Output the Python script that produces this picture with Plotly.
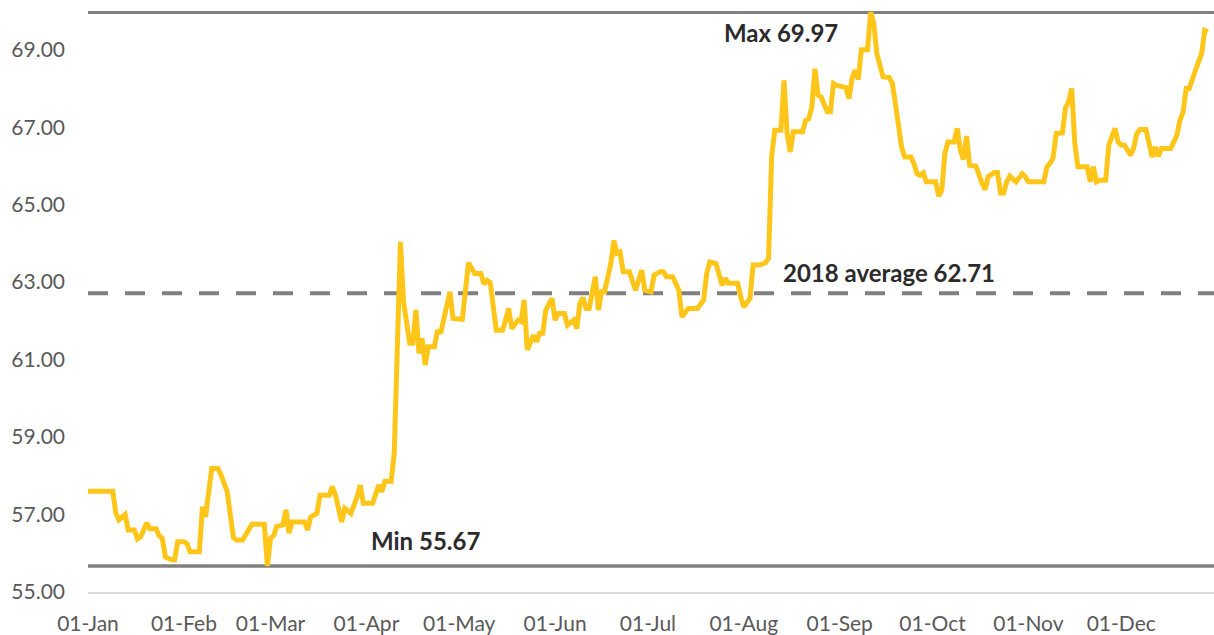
import plotly.graph_objects as go

dates = [
    "2018-01-01", "2018-01-09", "2018-01-10", "2018-01-11", "2018-01-13", "2018-01-14", "2018-01-16", "2018-01-17",
    "2018-01-18", "2018-01-20", "2018-01-21", "2018-01-23", "2018-01-24", "2018-01-25", "2018-01-26", "2018-01-28",
    "2018-01-29", "2018-01-30", "2018-02-01", "2018-02-02", "2018-02-03", "2018-02-06", "2018-02-07", "2018-02-08",
    "2018-02-10", "2018-02-12", "2018-02-13", "2018-02-14", "2018-02-15", "2018-02-17", "2018-02-18", "2018-02-20",
    "2018-02-22", "2018-02-23", "2018-02-27", "2018-02-28", "2018-03-01", "2018-03-02", "2018-03-03", "2018-03-05",
    "2018-03-06", "2018-03-07", "2018-03-08", "2018-03-12", "2018-03-13", "2018-03-14", "2018-03-16", "2018-03-17",
    "2018-03-20", "2018-03-21", "2018-03-22", "2018-03-24", "2018-03-25", "2018-03-27", "2018-03-29", "2018-03-30",
    "2018-03-31", "2018-04-03", "2018-04-05", "2018-04-06", "2018-04-07", "2018-04-09", "2018-04-10", "2018-04-11",
    "2018-04-12", "2018-04-13", "2018-04-14", "2018-04-15", "2018-04-16", "2018-04-17", "2018-04-18", "2018-04-19",
    "2018-04-20", "2018-04-21", "2018-04-23", "2018-04-24", "2018-04-25", "2018-04-27", "2018-04-28", "2018-04-29",
    "2018-05-02", "2018-05-04", "2018-05-06", "2018-05-08", "2018-05-09", "2018-05-10", "2018-05-11", "2018-05-13",
    "2018-05-15", "2018-05-16", "2018-05-17", "2018-05-18", "2018-05-20", "2018-05-21", "2018-05-22", "2018-05-23",
    "2018-05-25", "2018-05-26", "2018-05-27", "2018-05-28", "2018-05-29", "2018-05-31", "2018-06-01", "2018-06-02",
    "2018-06-04", "2018-06-05", "2018-06-07", "2018-06-08", "2018-06-09", "2018-06-10", "2018-06-11", "2018-06-12",
    "2018-06-14", "2018-06-15", "2018-06-16", "2018-06-17", "2018-06-19", "2018-06-20", "2018-06-21", "2018-06-22",
    "2018-06-23", "2018-06-25", "2018-06-27", "2018-06-29", "2018-06-30", "2018-07-02", "2018-07-03", "2018-07-05",
    "2018-07-06", "2018-07-07", "2018-07-09", "2018-07-11", "2018-07-12", "2018-07-14", "2018-07-17", "2018-07-19",
    "2018-07-20", "2018-07-21", "2018-07-23", "2018-07-25", "2018-07-26", "2018-07-27", "2018-07-30", "2018-07-31",
    "2018-08-01", "2018-08-03", "2018-08-04", "2018-08-06", "2018-08-08", "2018-08-09", "2018-08-10", "2018-08-11",
    "2018-08-13", "2018-08-14", "2018-08-15", "2018-08-16", "2018-08-17", "2018-08-20", "2018-08-21", "2018-08-22",
    "2018-08-23", "2018-08-24", "2018-08-25", "2018-08-26", "2018-08-28", "2018-08-29", "2018-08-30", "2018-08-31",
    "2018-09-02", "2018-09-03", "2018-09-04", "2018-09-05", "2018-09-06", "2018-09-07", "2018-09-08", "2018-09-10",
    "2018-09-11", "2018-09-12", "2018-09-13", "2018-09-14", "2018-09-15", "2018-09-17", "2018-09-18", "2018-09-19",
    "2018-09-21", "2018-09-22", "2018-09-24", "2018-09-25", "2018-09-26", "2018-09-27", "2018-09-28", "2018-09-29",
    "2018-10-02", "2018-10-03", "2018-10-04", "2018-10-05", "2018-10-06", "2018-10-08", "2018-10-09", "2018-10-10",
    "2018-10-11", "2018-10-12", "2018-10-13", "2018-10-15", "2018-10-16", "2018-10-17", "2018-10-18", "2018-10-19",
    "2018-10-21", "2018-10-22", "2018-10-23", "2018-10-24", "2018-10-25", "2018-10-26", "2018-10-28", "2018-10-30",
    "2018-10-31", "2018-11-01", "2018-11-02", "2018-11-06", "2018-11-07", "2018-11-08", "2018-11-09", "2018-11-10",
    "2018-11-12", "2018-11-13", "2018-11-14", "2018-11-15", "2018-11-16", "2018-11-17", "2018-11-20", "2018-11-21",
    "2018-11-22", "2018-11-23", "2018-11-24", "2018-11-26", "2018-11-27", "2018-11-28", "2018-11-29", "2018-11-30",
    "2018-12-01", "2018-12-02", "2018-12-04", "2018-12-05", "2018-12-06", "2018-12-07", "2018-12-09", "2018-12-11",
    "2018-12-12", "2018-12-13", "2018-12-14", "2018-12-17", "2018-12-18", "2018-12-19", "2018-12-20", "2018-12-21",
    "2018-12-22", "2018-12-23", "2018-12-25", "2018-12-26", "2018-12-27", "2018-12-28", "2018-12-29",
]

values = [
    57.60, 57.60, 57.04, 56.86, 57.00, 56.60, 56.60, 56.37,
    56.42, 56.78, 56.63, 56.63, 56.45, 56.39, 55.91, 55.83,
    55.83, 56.30, 56.30, 56.25, 56.04, 56.04, 57.20, 56.94,
    58.19, 58.19, 58.02, 57.76, 57.59, 56.41, 56.34, 56.34,
    56.63, 56.75, 56.75, 55.67, 56.39, 56.45, 56.69, 56.73,
    57.12, 56.52, 56.81, 56.81, 56.60, 56.94, 57.03, 57.50,
    57.50, 57.72, 57.50, 56.81, 57.16, 57.03, 57.46, 57.76,
    57.29, 57.29, 57.76, 57.59, 57.86, 57.86, 58.58, 61.16,
    64.04, 62.50, 61.90, 61.42, 61.42, 62.28, 61.16, 61.55,
    60.86, 61.33, 61.33, 61.76, 61.68, 62.45, 62.75, 62.06,
    62.04, 63.50, 63.22, 63.22, 62.95, 63.05, 63.00, 61.76,
    61.76, 62.02, 62.32, 61.80, 62.02, 61.98, 62.54, 61.25,
    61.63, 61.46, 61.68, 61.68, 62.28, 62.58, 62.02, 62.19,
    62.19, 61.89, 62.02, 61.80, 62.45, 62.60, 62.32, 62.32,
    63.14, 62.28, 62.75, 62.75, 63.48, 64.07, 63.74, 63.78,
    63.27, 63.27, 62.79, 63.31, 62.79, 62.75, 63.18, 63.27,
    63.27, 63.14, 63.14, 62.79, 62.10, 62.32, 62.32, 62.54,
    63.22, 63.52, 63.48, 62.92, 63.10, 62.97, 62.97, 62.62,
    62.36, 62.58, 63.44, 63.44, 63.50, 63.61, 66.23, 66.92,
    66.92, 68.21, 66.84, 66.36, 66.88, 66.88, 67.18, 67.22,
    67.52, 68.51, 67.83, 67.78, 67.40, 67.40, 68.13, 68.08,
    68.06, 68.02, 67.74, 68.26, 68.47, 68.23, 69.00, 69.00,
    69.97, 69.70, 68.90, 68.60, 68.30, 68.28, 68.14, 67.61,
    66.49, 66.23, 66.23, 66.06, 65.80, 65.76, 65.82, 65.59,
    65.59, 65.22, 65.37, 66.32, 66.62, 66.62, 66.97, 66.41,
    66.17, 66.77, 66.02, 66.00, 65.76, 65.56, 65.39, 65.72,
    65.83, 65.83, 65.30, 65.30, 65.59, 65.74, 65.59, 65.80,
    65.72, 65.59, 65.59, 65.59, 65.98, 66.06, 66.22, 66.84,
    66.85, 67.51, 67.65, 68.00, 66.58, 65.98, 65.98, 65.59,
    65.98, 65.59, 65.63, 65.63, 66.54, 66.79, 66.97, 66.62,
    66.54, 66.54, 66.28, 66.45, 66.82, 66.94, 66.94, 66.23,
    66.49, 66.25, 66.45, 66.45, 66.65, 66.79, 67.18, 67.39,
    68.00, 68.00, 68.47, 68.73, 68.90, 69.50, 69.46,
]

MAX_VAL = 69.97
MIN_VAL = 55.67
AVG_VAL = 62.71

month_ticks = ["2018-01-01", "2018-02-01", "2018-03-01", "2018-04-01", "2018-05-01", "2018-06-01",
               "2018-07-01", "2018-08-01", "2018-09-01", "2018-10-01", "2018-11-01", "2018-12-01"]
month_labels = ["01-Jan", "01-Feb", "01-Mar", "01-Apr", "01-May", "01-Jun",
                "01-Jul", "01-Aug", "01-Sep", "01-Oct", "01-Nov", "01-Dec"]
y_ticks = [55, 57, 59, 61, 63, 65, 67, 69]

FONT = "Lato"
GRAY = "#808080"

fig = go.Figure()

fig.add_hline(y=MAX_VAL, line=dict(color=GRAY, width=3.5), layer="below")
fig.add_hline(y=MIN_VAL, line=dict(color=GRAY, width=3.5), layer="below")
fig.add_hline(y=AVG_VAL, line=dict(color=GRAY, width=4, dash="20px,17px"), layer="below")

fig.add_trace(go.Scatter(
    x=dates, y=values, mode="lines",
    line=dict(color="#FFC619", width=5),
    hoverinfo="x+y", showlegend=False,
))

ann_font = dict(family=FONT, size=24, color="#2B2B2B")
fig.add_annotation(x="2018-08-13", y=69.45, text="<b>Max %.2f</b>" % MAX_VAL,
                   showarrow=False, font=ann_font)
fig.add_annotation(x="2018-09-17", y=63.26, text="<b>2018 average %.2f</b>" % AVG_VAL,
                   showarrow=False, font=ann_font)
fig.add_annotation(x="2018-04-20", y=56.34, text="<b>Min %.2f</b>" % MIN_VAL,
                   showarrow=False, font=ann_font)

fig.update_layout(
    width=1214, height=635,
    margin=dict(l=88, r=0, t=11, b=43),
    paper_bgcolor="white", plot_bgcolor="white",
    font=dict(family=FONT, size=21, color="#595959"),
    xaxis=dict(
        range=["2018-01-01", "2018-12-31"],
        tickvals=month_ticks, ticktext=month_labels,
        showgrid=False, zeroline=False,
        showline=True, linecolor="#D9D9D9", linewidth=2,
        ticks="", ticklabelstandoff=12,
        tickfont=dict(family=FONT, size=21, color="#595959"),
    ),
    yaxis=dict(
        range=[55, 70],
        tickvals=y_ticks, tickformat=".2f",
        showgrid=False, zeroline=False, showline=False,
        ticks="", ticklabelstandoff=22,
        tickfont=dict(family=FONT, size=21, color="#595959"),
    ),
)

fig.write_html("out.html", config={"displayModeBar": False},
               post_script="document.body.style.margin='0';document.body.style.overflow='hidden';")
